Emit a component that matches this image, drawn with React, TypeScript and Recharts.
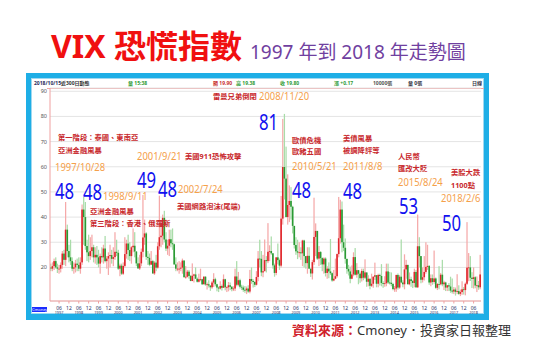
import React from "react";
import { ComposedChart, Bar, XAxis, YAxis, CartesianGrid } from "recharts";

// monthly candles, Jan 1997 .. Oct 2018
const startYear = 1997;
const yTicks = [15, 20, 25, 30, 35, 40, 45, 50, 55, 60, 65, 70, 75, 80, 85, 90];

const vixOpen = [
  20.0, 19.5, 20.5, 22.5, 20.0, 19.5, 19.5, 21.0, 25.5, 23.0, 35.0, 26.5,
  24.0, 22.5, 19.5, 20.0, 21.5, 21.0, 19.5, 22.0, 43.0, 40.0, 28.5, 26.0,
  24.5, 26.5, 28.0, 24.0, 25.0, 24.0, 21.5, 24.5, 24.0, 27.5, 22.5, 23.5,
  24.5, 24.9, 23.4, 24.1, 26.2, 25.8, 19.5, 20.7, 17.5, 20.6, 25.3, 29.5,
  26.9, 24.5, 28.0, 28.6, 26.3, 21.6, 19.6, 21.6, 26.2, 31.9, 33.5, 24.2,
  23.8, 21.1, 22.5, 17.6, 21.9, 19.9, 28.4, 32.0, 32.6, 39.7, 31.1, 27.5,
  28.6, 31.2, 29.6, 29.2, 21.2, 19.5, 19.5, 19.5, 19.9, 22.7, 16.1, 16.3,
  18.3, 16.6, 14.6, 16.7, 17.2, 15.5, 14.3, 15.3, 15.3, 13.3, 16.3, 13.2,
  13.3, 12.8, 12.1, 14.0, 15.3, 13.3, 12.0, 11.6, 12.6, 11.9, 15.3, 12.1,
  12.1, 12.9, 12.3, 11.4, 11.6, 16.4, 13.1, 14.9, 12.3, 12.0, 11.1, 10.9,
  11.6, 10.4, 15.4, 14.6, 14.2, 13.1, 16.2, 23.5, 23.4, 18.0, 18.5, 22.9,
  22.5, 26.2, 26.5, 25.6, 20.8, 17.8, 24.0, 22.9, 20.7, 39.4, 59.9, 55.3,
  40.0, 44.8, 46.4, 44.1, 36.5, 28.9, 26.4, 25.9, 26.0, 25.6, 30.7, 24.5,
  21.7, 24.6, 19.5, 17.6, 22.1, 32.1, 34.5, 23.5, 26.1, 23.7, 21.2, 23.5,
  17.8, 19.5, 18.4, 17.7, 14.8, 15.5, 16.5, 25.3, 31.6, 43.0, 30.0, 27.8,
  23.4, 19.4, 18.4, 15.5, 17.2, 24.1, 17.1, 18.9, 17.5, 15.7, 18.6, 15.9,
  18.0, 14.3, 15.5, 12.7, 13.5, 16.3, 16.9, 13.5, 17.0, 16.6, 13.8, 13.7,
  13.7, 18.4, 14.0, 13.9, 13.4, 11.4, 11.6, 17.0, 12.0, 16.3, 14.0, 13.3,
  19.2, 21.0, 13.3, 15.3, 14.6, 13.8, 18.2, 12.1, 28.4, 24.5, 15.1, 16.1,
  18.2, 20.2, 20.6, 14.0, 15.7, 14.2, 15.6, 11.9, 13.4, 13.3, 17.1, 13.3,
  14.0, 12.0, 12.9, 12.4, 10.8, 10.4, 11.2, 10.3, 10.6, 9.5, 10.2, 11.3,
  11.0, 13.5, 19.9, 20.0, 15.9, 15.4, 16.1, 12.8, 12.9, 12.1,
];

const vixHigh = [
  21.5, 22.0, 23.5, 24.0, 21.5, 21.0, 22.0, 26.5, 27.0, 46.0, 37.0, 29.0,
  31.0, 24.0, 22.0, 23.0, 23.5, 24.0, 24.0, 45.0, 48.0, 46.0, 31.0, 33.0,
  32.0, 33.0, 29.0, 28.0, 28.5, 27.0, 25.5, 28.0, 29.0, 32.5, 24.5, 26.0,
  29.0, 27.0, 28.0, 34.0, 31.0, 27.0, 21.5, 21.5, 22.0, 32.0, 31.0, 33.0,
  30.0, 28.5, 35.5, 34.0, 26.5, 24.0, 25.0, 27.5, 48.8, 39.0, 34.0, 26.5,
  25.5, 26.5, 23.0, 22.5, 25.0, 30.0, 48.5, 38.0, 41.0, 42.5, 34.0, 31.0,
  35.0, 35.0, 35.5, 29.5, 24.0, 22.0, 22.5, 22.0, 23.5, 22.9, 20.5, 19.0,
  19.0, 17.0, 21.6, 17.5, 20.0, 16.0, 17.5, 19.5, 15.5, 16.5, 16.5, 14.0,
  14.9, 12.8, 14.6, 17.7, 15.9, 13.5, 12.4, 14.5, 13.2, 17.2, 15.5, 12.5,
  14.2, 14.0, 12.6, 12.5, 19.5, 22.5, 18.2, 15.5, 13.1, 12.8, 12.6, 12.4,
  12.9, 19.0, 20.0, 15.3, 14.5, 18.5, 26.5, 31.0, 26.5, 25.0, 31.1, 24.5,
  37.6, 28.8, 32.3, 25.7, 21.5, 24.0, 29.5, 23.5, 48.4, 79.0, 81.0, 68.0,
  57.0, 52.6, 51.9, 44.5, 36.5, 32.0, 31.0, 30.0, 28.0, 31.0, 31.0, 24.5,
  28.0, 28.0, 19.5, 23.0, 47.7, 37.5, 34.5, 28.5, 26.5, 24.0, 24.0, 24.0,
  20.5, 22.0, 31.3, 18.0, 19.0, 23.5, 25.5, 48.0, 46.9, 46.2, 37.0, 31.5,
  23.4, 21.0, 20.3, 20.8, 26.0, 27.7, 21.7, 19.0, 18.0, 19.5, 19.5, 23.2,
  18.0, 16.9, 15.5, 17.5, 16.5, 21.9, 17.0, 17.5, 17.5, 21.3, 14.5, 16.5,
  21.5, 21.5, 18.2, 18.0, 13.9, 12.6, 17.1, 17.6, 17.0, 31.1, 14.9, 25.2,
  23.0, 21.0, 18.0, 16.3, 15.0, 19.5, 19.0, 41.0, 32.0, 24.5, 20.0, 24.5,
  30.0, 29.0, 20.9, 17.2, 17.2, 26.7, 16.0, 13.8, 20.5, 17.8, 23.0, 14.7,
  14.3, 13.0, 13.8, 16.3, 15.6, 12.2, 12.0, 17.3, 12.9, 11.2, 14.5, 12.2,
  14.0, 38.0, 25.7, 24.5, 18.1, 20.0, 16.5, 16.4, 14.6, 25.0,
];

const vixLow = [
  18.5, 18.5, 19.0, 19.5, 17.8, 17.5, 18.0, 19.5, 21.0, 20.5, 24.0, 22.0,
  21.0, 18.5, 17.5, 18.0, 18.5, 18.5, 17.5, 21.0, 29.0, 27.0, 22.5, 22.0,
  23.0, 24.0, 22.0, 21.5, 21.0, 20.0, 17.5, 22.0, 21.5, 22.0, 19.5, 17.0,
  20.0, 21.5, 20.5, 23.0, 24.5, 19.0, 16.5, 17.0, 17.0, 20.0, 23.5, 23.0,
  22.5, 21.5, 26.0, 24.0, 20.5, 19.5, 19.0, 20.5, 24.0, 29.0, 23.0, 21.0,
  20.5, 21.0, 17.5, 17.0, 18.5, 19.5, 27.0, 28.0, 29.0, 30.0, 26.5, 25.0,
  24.5, 28.0, 27.0, 21.0, 18.5, 18.5, 17.5, 18.5, 17.5, 16.0, 15.5, 16.0,
  15.5, 14.5, 14.5, 14.0, 15.5, 14.0, 14.0, 14.5, 13.0, 13.3, 12.7, 11.2,
  12.0, 10.7, 11.5, 12.2, 12.5, 10.5, 10.2, 11.2, 10.8, 11.9, 10.9, 10.2,
  10.5, 11.0, 10.5, 10.6, 10.6, 12.5, 12.5, 11.6, 11.0, 10.3, 9.9, 9.4,
  9.9, 9.7, 13.5, 12.0, 12.2, 12.8, 14.5, 20.0, 16.5, 16.1, 18.5, 18.0,
  21.7, 22.5, 25.0, 19.5, 16.3, 16.9, 21.2, 19.0, 20.0, 37.0, 47.0, 40.0,
  37.0, 38.0, 39.0, 33.5, 27.5, 25.0, 23.3, 24.0, 23.0, 20.5, 20.0, 19.5,
  17.5, 19.5, 16.2, 15.2, 21.0, 24.5, 23.0, 20.5, 21.0, 18.5, 17.5, 16.4,
  15.5, 15.7, 17.0, 14.3, 14.5, 15.3, 15.9, 24.0, 29.5, 26.0, 26.5, 21.5,
  17.5, 16.8, 13.7, 15.3, 16.5, 16.8, 15.9, 13.3, 13.9, 14.4, 14.9, 15.4,
  12.3, 12.5, 11.3, 12.2, 11.9, 15.0, 12.1, 12.1, 12.8, 12.5, 11.9, 12.3,
  12.5, 13.4, 13.2, 12.5, 10.9, 10.3, 10.3, 11.2, 11.5, 13.7, 12.1, 11.3,
  15.5, 13.3, 12.9, 12.3, 11.8, 12.1, 11.9, 11.8, 20.0, 13.7, 14.0, 14.8,
  17.5, 19.0, 13.1, 12.5, 13.1, 13.5, 11.5, 11.0, 11.3, 12.9, 12.5, 11.0,
  10.6, 10.6, 10.6, 9.9, 9.6, 9.4, 8.8, 9.4, 9.1, 8.6, 9.1, 9.2,
  8.9, 13.0, 14.5, 14.6, 11.8, 11.6, 11.7, 10.2, 11.1, 11.3,
];

const vixClose = [
  19.5, 20.5, 22.5, 20.0, 19.5, 19.5, 21.0, 25.5, 23.0, 35.0, 26.5, 24.0,
  22.5, 19.5, 20.0, 21.5, 21.0, 19.5, 22.0, 43.0, 40.0, 28.5, 26.0, 24.5,
  26.5, 28.0, 24.0, 25.0, 24.0, 21.5, 24.5, 24.0, 27.5, 22.5, 23.5, 24.5,
  24.9, 23.4, 24.1, 26.2, 25.8, 19.5, 20.7, 17.5, 20.6, 25.3, 29.5, 26.9,
  24.5, 28.0, 28.6, 26.3, 21.6, 19.6, 21.6, 26.2, 31.9, 33.5, 24.2, 23.8,
  21.1, 22.5, 17.6, 21.9, 19.9, 28.4, 32.0, 32.6, 39.7, 31.1, 27.5, 28.6,
  31.2, 29.6, 29.2, 21.2, 19.5, 19.5, 19.5, 19.9, 22.7, 16.1, 16.3, 18.3,
  16.6, 14.6, 16.7, 17.2, 15.5, 14.3, 15.3, 15.3, 13.3, 16.3, 13.2, 13.3,
  12.8, 12.1, 14.0, 15.3, 13.3, 12.0, 11.6, 12.6, 11.9, 15.3, 12.1, 12.1,
  12.9, 12.3, 11.4, 11.6, 16.4, 13.1, 14.9, 12.3, 12.0, 11.1, 10.9, 11.6,
  10.4, 15.4, 14.6, 14.2, 13.1, 16.2, 23.5, 23.4, 18.0, 18.5, 22.9, 22.5,
  26.2, 26.5, 25.6, 20.8, 17.8, 24.0, 22.9, 20.7, 39.4, 59.9, 55.3, 40.0,
  44.8, 46.4, 44.1, 36.5, 28.9, 26.4, 25.9, 26.0, 25.6, 30.7, 24.5, 21.7,
  24.6, 19.5, 17.6, 22.1, 32.1, 34.5, 23.5, 26.1, 23.7, 21.2, 23.5, 17.8,
  19.5, 18.4, 17.7, 14.8, 15.5, 16.5, 25.3, 31.6, 43.0, 30.0, 27.8, 23.4,
  19.4, 18.4, 15.5, 17.2, 24.1, 17.1, 18.9, 17.5, 15.7, 18.6, 15.9, 18.0,
  14.3, 15.5, 12.7, 13.5, 16.3, 16.9, 13.5, 17.0, 16.6, 13.8, 13.7, 13.7,
  18.4, 14.0, 13.9, 13.4, 11.4, 11.6, 17.0, 12.0, 16.3, 14.0, 13.3, 19.2,
  21.0, 13.3, 15.3, 14.6, 13.8, 18.2, 12.1, 28.4, 24.5, 15.1, 16.1, 18.2,
  20.2, 20.6, 14.0, 15.7, 14.2, 15.6, 11.9, 13.4, 13.3, 17.1, 13.3, 14.0,
  12.0, 12.9, 12.4, 10.8, 10.4, 11.2, 10.3, 10.6, 9.5, 10.2, 11.3, 11.0,
  13.5, 19.9, 20.0, 15.9, 15.4, 16.1, 12.8, 12.9, 12.1, 17.2,
];

const data = vixOpen.map((o, i) => ({
  idx: i,
  o,
  h: vixHigh[i],
  l: vixLow[i],
  c: vixClose[i],
  range: [vixLow[i], vixHigh[i]],
}));

// annotations
const redNotes = [
  { x: 58, y: 138, t: "第一階段：泰國、東南亞" },
  { x: 58, y: 151, t: "亞洲金融風暴" },
  { x: 90, y: 212, t: "亞洲金融風暴" },
  { x: 90, y: 224, t: "第三階段：香港、俄羅斯" },
  { x: 185, y: 157, t: "美國911恐怖攻擊" },
  { x: 177, y: 207, t: "美國網路泡沫(尾端)" },
  { x: 213, y: 97, t: "雷曼兄弟倒閉" },
  { x: 292, y: 141, t: "歐債危機" },
  { x: 292, y: 152, t: "歐豬五國" },
  { x: 343, y: 139, t: "美債風暴" },
  { x: 343, y: 151, t: "被調降評等" },
  { x: 398, y: 157, t: "人民幣" },
  { x: 398, y: 169, t: "匯改大貶" },
  { x: 451, y: 173, t: "美股大跌" },
  { x: 451, y: 186, t: "1100點" },
];
const dateNotes = [
  { x: 55, y: 168, t: "1997/10/28" },
  { x: 103, y: 197, t: "1998/9/11" },
  { x: 137, y: 157, t: "2001/9/21" },
  { x: 178, y: 190, t: "2002/7/24" },
  { x: 259, y: 97, t: "2008/11/20" },
  { x: 292, y: 167, t: "2010/5/21" },
  { x: 343, y: 167, t: "2011/8/8" },
  { x: 398, y: 183, t: "2015/8/24" },
  { x: 441, y: 199, t: "2018/2/6" },
];
const peakNotes = [
  { x: 55, y: 191, t: "48" },
  { x: 83, y: 192, t: "48" },
  { x: 137, y: 180, t: "49" },
  { x: 158, y: 189, t: "48" },
  { x: 259, y: 122, t: "81" },
  { x: 292, y: 190, t: "48" },
  { x: 343, y: 191, t: "48" },
  { x: 399, y: 206, t: "53" },
  { x: 442, y: 223, t: "50" },
];
const headerItems = [
  { x: 34, t: "2018/10/15", c: "#1f2a5a" },
  { x: 61, t: "近300日動態", c: "#333" },
  { x: 128, t: "量 15:38", c: "#2e9a36" },
  { x: 213, t: "開 19.90", c: "#c83030" },
  { x: 236, t: "高 19.38", c: "#2e9a36" },
  { x: 280, t: "收 19.80", c: "#2e9a36" },
  { x: 334, t: "漲 +0.17", c: "#2e9a36" },
  { x: 373, t: "10000張", c: "#555" },
  { x: 408, t: "量 0張", c: "#334" },
  { x: 472, t: "日線", c: "#334" },
];

const SANS = '"Noto Sans", "Noto Sans CJK TC", sans-serif';

function Note({ x, y, t, size, color, sx = 1, weight = 400, lh = 1 }: any) {
  return (
    <div
      style={{
        position: "absolute",
        left: x,
        top: y,
        fontSize: size,
        lineHeight: lh,
        color,
        fontWeight: weight,
        whiteSpace: "nowrap",
        transform: `translateY(-50%) scaleX(${sx})`,
        transformOrigin: "left center",
      }}
    >
      {t}
    </div>
  );
}

function Candle(props: any) {
  const { x, y, width, height, payload } = props;
  if (!payload || payload.h <= payload.l) return null;
  const k = height / (payload.h - payload.l);
  const up = payload.c >= payload.o;
  const top = y + (payload.h - Math.max(payload.o, payload.c)) * k;
  const bh = Math.max(Math.abs(payload.c - payload.o) * k, 0.8);
  return (
    <g>
      <rect x={x + 0.2} y={y} width={width - 0.4} height={height} fill={up ? "#f5a9a9" : "#a9dca9"} />
      <rect x={x} y={top} width={width} height={bh} fill={up ? "#e0262c" : "#2a9a34"} />
    </g>
  );
}

// plot bottom sits at y = 301; labels placed from there
function MonthTick(props: any) {
  const { x, payload } = props;
  const i = payload.value;
  const m = (i % 12) + 1;
  if (m !== 6 && m !== 12) return <g />;
  const yr = startYear + Math.floor(i / 12);
  return (
    <g>
      <line x1={x} x2={x} y1={301} y2={303.5} stroke="#f0a0a0" />
      <text x={x} y={310} fontSize={5} fill="#2a3466" textAnchor="middle">
        {m === 6 ? "06" : "12"}
      </text>
      {m === 6 && (
        <text x={x} y={314} fontSize={3.8} fill="#2a3466" textAnchor="middle">
          {yr}
        </text>
      )}
    </g>
  );
}

function ValueTick(props: any) {
  const { y, payload } = props;
  return (
    <text x={47} y={y + 2} fontSize={5.5} fill="#555" textAnchor="end">
      {payload.value}
    </text>
  );
}

export default function App() {
  return (
    <div
      style={{
        position: "absolute",
        left: 0,
        top: 0,
        width: 539,
        height: 354,
        background: "#fff",
        fontFamily: SANS,
        overflow: "hidden",
      }}
    >
      {/* title */}
      <div style={{ position: "absolute", left: 51, top: 30, fontSize: 32, lineHeight: 1, fontWeight: 700, color: "#f01010", whiteSpace: "nowrap" }}>
        VIX 恐慌指數
      </div>
      <div style={{ position: "absolute", left: 250, top: 43, fontSize: 19, lineHeight: 1, color: "#7040a0", whiteSpace: "nowrap" }}>
        1997 年到 2018 年走勢圖
      </div>

      {/* frame */}
      <div style={{ position: "absolute", left: 26, top: 73, width: 463, height: 247, background: "#1eaee6" }} />
      <div style={{ position: "absolute", left: 31, top: 78, width: 453, height: 236, background: "#fff", boxSizing: "border-box", border: "1px solid #9fd8f0" }} />

      {headerItems.map((h, i) => (
        <Note key={"h" + i} x={h.x} y={83} t={h.t} size={5} color={h.c} weight={700} />
      ))}
      <div style={{ position: "absolute", left: 47, top: 87.5, width: 437, height: 1, background: "#f2a5a5" }} />

      <div style={{ position: "absolute", left: 0, top: 0 }}>
        <ComposedChart
          width={539}
          height={354}
          data={data}
          margin={{ top: 88, right: 58, bottom: 0, left: 30 }}
          barCategoryGap={0}
        >
          <CartesianGrid vertical={false} stroke="#e4e4e4" />
          <XAxis
            dataKey="idx"
            type="category"
            interval={0}
            height={53}
            tickLine={false}
            axisLine={{ stroke: "#f0a0a0" }}
            tick={<MonthTick />}
          />
          <YAxis
            type="number"
            domain={[6.65, 91.3]}
            ticks={yTicks}
            allowDataOverflow
            width={20}
            tickLine={false}
            axisLine={{ stroke: "#f0a0a0" }}
            tick={<ValueTick />}
          />
          <Bar dataKey="range" barSize={1.64} shape={<Candle />} isAnimationActive={false} />
        </ComposedChart>
      </div>

      <div style={{ position: "absolute", left: 32, top: 306.5, width: 15, height: 5, background: "#1a2cff", color: "#fff", fontSize: 4, lineHeight: "5px", textAlign: "center" }}>
        Cmoney
      </div>

      {redNotes.map((n, i) => (
        <Note key={"r" + i} x={n.x} y={n.y} t={n.t} size={7.3} color="#c8282c" weight={700} />
      ))}
      {dateNotes.map((n, i) => (
        <Note key={"d" + i} x={n.x} y={n.y} t={n.t} size={10.7} color="#f5a04a" sx={0.88} lh={0.85} />
      ))}
      {peakNotes.map((n, i) => (
        <Note key={"p" + i} x={n.x} y={n.y} t={n.t} size={22} color="#1010f0" sx={0.76} lh={0.8} />
      ))}

      {/* source */}
      <div style={{ position: "absolute", left: 292, top: 324, fontSize: 13, lineHeight: 1, whiteSpace: "nowrap", color: "#333" }}>
        <span style={{ color: "#d0202a", fontWeight: 700 }}>資料來源：</span>
        Cmoney．投資家日報整理
      </div>
    </div>
  );
}
